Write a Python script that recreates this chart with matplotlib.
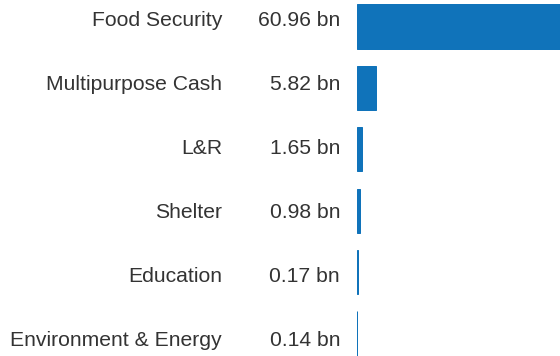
import matplotlib
matplotlib.use("Agg")
import matplotlib.pyplot as plt

categories = ["Food Security", "Multipurpose Cash", "L&R", "Shelter",
              "Education", "Environment & Energy"]
values = [60.96, 5.82, 1.65, 0.98, 0.17, 0.14]
value_labels = [f"{v:.2f} bn" for v in values]

W, H, DPI = 560, 356, 100
BAR_COLOR = "#1073ba"
TEXT_COLOR = "#333333"
FONT = ["Liberation Sans", "DejaVu Sans"]

fig = plt.figure(figsize=(W / DPI, H / DPI), dpi=DPI)
fig.patch.set_facecolor("white")

# bar panel on the right
x0 = 357 / W
ax = fig.add_axes([x0, 0, 1 - x0, 1])
pitch = 61.4
first_center = 26.5
last_center = first_center + pitch * (len(values) - 1)
ax.set_ylim(len(values) - 1 + (H - last_center) / pitch, -first_center / pitch)
ax.set_xlim(0, values[0])
ax.barh(range(len(values)), values, height=0.72, color=BAR_COLOR,
        edgecolor=BAR_COLOR, linewidth=0.72)
ax.axis("off")

# row labels
for i, (cat, lab) in enumerate(zip(categories, value_labels)):
    y = 1 - (26 + 64 * i) / H
    fig.text(222 / W, y, cat, ha="right", va="baseline",
             fontsize=15.2, color=TEXT_COLOR, family=FONT)
    fig.text(340 / W, y, lab, ha="right", va="baseline",
             fontsize=15.2, color=TEXT_COLOR, family=FONT)

fig.savefig("out.png", dpi=DPI, facecolor="white")
